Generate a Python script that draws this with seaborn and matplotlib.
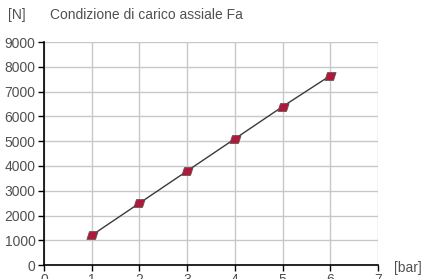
import matplotlib
matplotlib.use("Agg")
import matplotlib.pyplot as plt
from matplotlib.path import Path
import seaborn as sns
import pandas as pd

# pressione [bar] e forza assiale [N]
pressione = [1, 2, 3, 4, 5, 6]
forza = [1200, 2500, 3800, 5100, 6400, 7650]
x_ticks = [0, 1, 2, 3, 4, 5, 6, 7]
y_ticks = [0, 1000, 2000, 3000, 4000, 5000, 6000, 7000, 8000, 9000]

df = pd.DataFrame({"bar": pressione, "N": forza})

sns.set_style("white")
plt.rcParams['font.family'] = ['Liberation Sans', 'DejaVu Sans']

# marker a parallelogramma
rombo = Path([(-1.0, -0.7), (0.55, -0.7), (1.0, 0.7), (-0.55, 0.7), (-1.0, -0.7)],
             [Path.MOVETO, Path.LINETO, Path.LINETO, Path.LINETO, Path.CLOSEPOLY])

fig = plt.figure(figsize=(4.23, 2.79), dpi=100)
ax = fig.add_axes([0.104, 0.050, 0.790, 0.799])

sns.lineplot(data=df, x="bar", y="N", ax=ax, color="#3a3a3a", linewidth=1.0,
             marker=rombo, markersize=8, markerfacecolor="#b5173a",
             markeredgecolor="#555555", markeredgewidth=0.6, zorder=3)

ax.set_xlim(0, 7)
ax.set_ylim(0, 9000)
ax.set_xticks(x_ticks)
ax.set_yticks(y_ticks)
ax.grid(True, color="#c8c8c8", linewidth=1.0)
ax.set_axisbelow(True)
for s in ["top", "right"]:
    ax.spines[s].set_visible(False)
for s in ["left", "bottom"]:
    ax.spines[s].set_color("black")
    ax.spines[s].set_linewidth(1.2)
ax.tick_params(axis="both", direction="out", length=4, width=1, color="black",
               labelsize=10, labelcolor="#505050", pad=2, left=True, bottom=True)
ax.set_xlabel("")
ax.set_ylabel("")

fig.text(0.019, 0.948, "[N]", fontsize=10, color="#505050", va="center")
fig.text(0.118, 0.948, "Condizione di carico assiale Fa", fontsize=10,
         color="#505050", va="center")
fig.text(0.932, 0.040, "[bar]", fontsize=10, color="#505050", va="center")

fig.savefig("out.png", dpi=100)
